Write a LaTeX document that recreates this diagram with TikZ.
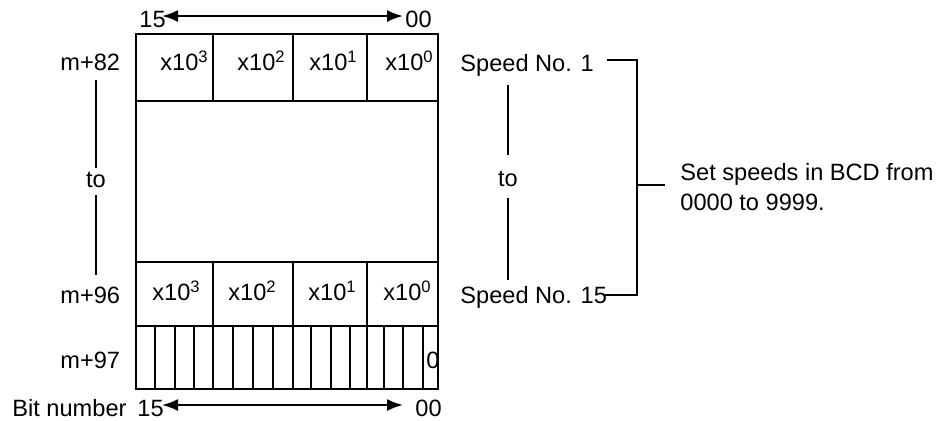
\documentclass[tikz,border=0pt]{standalone}
\usepackage{fontspec}
\setmainfont{Liberation Sans}
\usetikzlibrary{arrows.meta}
\newcommand{\mysup}[1]{\raisebox{4pt}{\fontsize{8.3}{10}\selectfont #1}}
\begin{document}
\begin{tikzpicture}[x=0.5pt,y=-0.5pt,
  lbl/.style={inner sep=0pt, anchor=base west, font=\fontsize{11.8}{14}\selectfont},
  ln/.style={line width=1pt},
  dbl/.style={line width=1pt, {Latex[length=8pt,width=6pt]}-{Latex[length=8pt,width=6pt]}}]
\useasboundingbox (0,0) rectangle (946,420);
% register table
\draw[ln] (136,34) rectangle (438,389);
\draw[ln] (136,101) -- (438,101);
\draw[ln] (136,262) -- (438,262);
\draw[ln] (136,326) -- (438,326);
\foreach \x in {213,293,367} {
  \draw[ln] (\x,34) -- (\x,101);
  \draw[ln] (\x,262) -- (\x,389);
}
\foreach \x in {155,175,194,233,253,273,311,331,350,384,403,423} {
  \draw[ln] (\x,326) -- (\x,389);
}
% cell texts
\node[lbl] (a3) at (160,70) {x10\mysup{3}};
\node[lbl] (a2) at (237,70) {x10\mysup{2}};
\node[lbl] (a1) at (309,70) {x10\mysup{1}};
\node[lbl] (a0) at (385,70) {x10\mysup{0}};
\node[lbl] (b3) at (152,300) {x10\mysup{3}};
\node[lbl] (b2) at (228,300) {x10\mysup{2}};
\node[lbl] (b1) at (308,300) {x10\mysup{1}};
\node[lbl] (b0) at (383,300) {x10\mysup{0}};
\node[lbl] (z0) at (426,368) {0};
% bit arrows
\node[lbl] (t15) at (139,27) {15};
\node[lbl] (t00) at (405,27) {00};
\coordinate (ta1) at (162,16);
\coordinate (ta2) at (403,16);
\draw[dbl] (ta1) -- (ta2);
\node[lbl] (bitn) at (12,416) {Bit number};
\node[lbl] (b15) at (137,416) {15};
\node[lbl] (b00) at (415,416) {00};
\coordinate (ba1) at (162,405);
\coordinate (ba2) at (403,405);
\draw[dbl] (ba1) -- (ba2);
% left labels
\node[lbl] (m82) at (60,70) {m+82};
\node[lbl] (m96) at (60,303) {m+96};
\node[lbl] (m97) at (60,368) {m+97};
\node[lbl, anchor=base] (lto) at (96,187) {to};
\coordinate (l1) at (96,80);
\coordinate (l2) at (96,168);
\coordinate (l3) at (96,195);
\coordinate (l4) at (96,275);
\draw[ln] (l1) -- (l2);
\draw[ln] (l3) -- (l4);
% right labels
\node[lbl] (sp1) at (460,71) {Speed No. 1};
\node[lbl] (sp15) at (460,303) {Speed No. 15};
\node[lbl, anchor=base] (rto) at (508,186) {to};
\coordinate (r1) at (508,85);
\coordinate (r2) at (508,155);
\coordinate (r3) at (508,198);
\coordinate (r4) at (508,280);
\draw[ln] (r1) -- (r2);
\draw[ln] (r3) -- (r4);
% bracket
\coordinate (k1) at (607,60);
\coordinate (k2) at (637,60);
\coordinate (k3) at (637,295);
\coordinate (k4) at (605,295);
\coordinate (km) at (637,185);
\coordinate (kt) at (665,185);
\draw[ln] (k1) -- (k2) -- (k3) -- (k4);
\draw[ln] (km) -- (kt);
\node[lbl] (set1) at (680,180) {Set speeds in BCD from};
\node[lbl] (set2) at (680,210) {0000 to 9999.};
\end{tikzpicture}
\end{document}
